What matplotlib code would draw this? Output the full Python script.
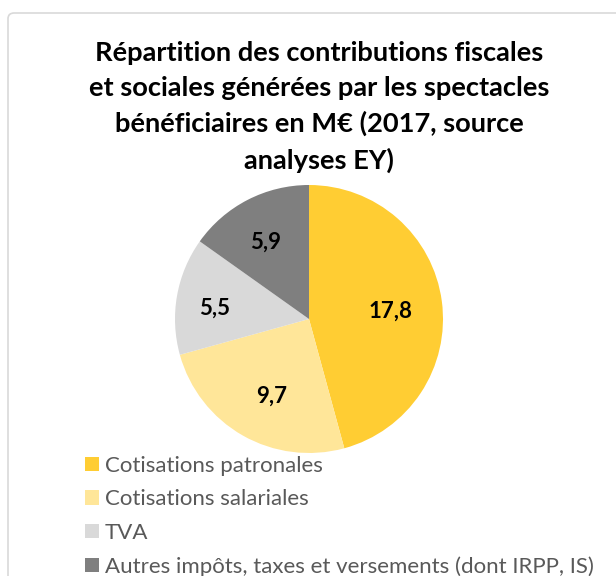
import numpy as np
import matplotlib
matplotlib.use("Agg")
import matplotlib.pyplot as plt
from matplotlib.patches import FancyBboxPatch

plt.rcParams['font.family'] = ['Lato', 'DejaVu Sans']

# data
categories = ["Cotisations patronales", "Cotisations salariales", "TVA",
              "Autres impôts, taxes et versements (dont IRPP, IS)"]
values = [17.8, 9.7, 5.5, 5.9]
value_labels = ["17,8", "9,7", "5,5", "5,9"]
colors = ["#FFCD33", "#FFE699", "#D9D9D9", "#7F7F7F"]
title = ("Répartition des contributions fiscales\n"
         "et sociales générées par les spectacles\n"
         "bénéficiaires en M€ (2017, source\n"
         "analyses EY)")

W, H = 616, 576
fig = plt.figure(figsize=(W/100, H/100), dpi=100)

# chart frame
frame = FancyBboxPatch((8/W, -0.05), 1.1, 1 - 13/H + 0.05,
                       boxstyle="round,pad=0,rounding_size=0.01",
                       transform=fig.transFigure, fc="white", ec="#D9D9D9",
                       lw=1.2, zorder=-5)
fig.patches.append(frame)

fig.text(319/W, 1 - 41/H, title, ha="center", va="top", fontsize=19.6,
         fontweight="bold", color="black", linespacing=1.53)

cx, cy, r = 309, 319, 134
ax = fig.add_axes([(cx - r)/W, 1 - (cy + r)/H, 2*r/W, 2*r/H])
ax.patch.set_visible(False)
wedges, _ = ax.pie(values, colors=colors, startangle=90, counterclock=False,
                   wedgeprops=dict(linewidth=0))
ax.set_xlim(-1, 1); ax.set_ylim(-1, 1)
ax.set_aspect("equal")

# data labels, Excel-style best fit
label_r = [0.61, 0.64, 0.71, 0.66]
label_da = [-2.5, 4, 3.2, 2.3]
for w, txt, lr, da in zip(wedges, value_labels, label_r, label_da):
    a = np.deg2rad((w.theta1 + w.theta2) / 2 + da)
    ax.text(lr*np.cos(a), lr*np.sin(a), txt, ha="center", va="center",
            fontsize=16, fontweight="bold", color="black")

leg = fig.legend(wedges, categories, loc="upper left",
                 bbox_to_anchor=(85/W, 1 - 456/H), frameon=False,
                 fontsize=16, handlelength=0.63, handleheight=0.63,
                 handletextpad=0.27, labelspacing=0.6, borderaxespad=0,
                 borderpad=0)
for t in leg.get_texts():
    t.set_color("#595959")

fig.savefig("out.png", dpi=100)
